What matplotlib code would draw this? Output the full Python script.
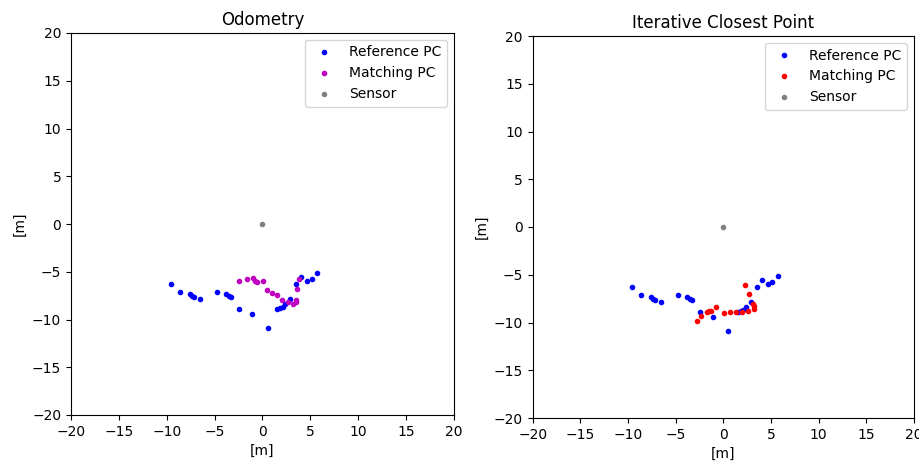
import matplotlib
matplotlib.use("Agg")
import matplotlib.pyplot as plt

# Reference point cloud (same in both panels)
ref_x = [-9.59, -8.65, -7.57, -7.33, -7.15, -6.53, -4.75, -3.81, -3.53, -3.29,
         -2.42, -1.13, 0.54, 1.55, 1.83, 2.1, 2.35, 2.87, 3.5, 4.05, 4.65, 5.14, 5.73]
ref_y = [-6.28, -7.12, -7.33, -7.5, -7.68, -7.89, -7.12, -7.33, -7.5, -7.68,
         -8.93, -9.46, -10.86, -8.93, -8.83, -8.66, -8.41, -7.85, -6.28, -5.51, -5.93, -5.76, -5.1]

# Matching point cloud after odometry
odo_x = [-2.42, -1.65, -0.96, -0.78, -0.6, 0.02, 0.44, 1.0, 1.51, 2.07,
         2.66, 3.22, 3.46, 3.53, 3.6, 3.85]
odo_y = [-5.97, -5.76, -5.69, -5.93, -6.07, -5.97, -6.91, -7.23, -7.4, -7.96,
         -8.2, -8.41, -8.13, -7.92, -6.84, -5.76]

# Matching point cloud after ICP
icp_x = [-2.8, -2.32, -1.75, -1.48, -1.3, -0.81, 0.1, 0.66, 1.29, 1.95,
         2.55, 3.18, 3.21, 3.1, 2.69, 2.23]
icp_y = [-9.81, -9.29, -8.9, -8.8, -8.75, -8.41, -8.97, -8.87, -8.87, -8.87,
         -8.76, -8.62, -8.27, -8.1, -7.05, -6.1]

sensor_x = [0.0]
sensor_y = [0.0]

titles = ["Odometry", "Iterative Closest Point"]
ticks = [-20, -15, -10, -5, 0, 5, 10, 15, 20]

W, H = 920, 462
fig = plt.figure(figsize=(W / 100, H / 100), dpi=100)
ax1 = fig.add_axes([71 / W, (H - 415) / H, 383 / W, 382 / H])
ax2 = fig.add_axes([532.7 / W, (H - 418) / H, 381.3 / W, 382 / H])

panels = [(ax1, odo_x, odo_y, 'm'), (ax2, icp_x, icp_y, 'r')]
for (ax, mx, my, mc), title in zip(panels, titles):
    ax.plot(ref_x, ref_y, '.', color='b', label='Reference PC')
    ax.plot(mx, my, '.', color=mc, label='Matching PC')
    ax.plot(sensor_x, sensor_y, '.', color='gray', label='Sensor')
    ax.set_xlim(-20, 20)
    ax.set_ylim(-20, 20)
    ax.set_xticks(ticks)
    ax.set_yticks(ticks)
    ax.set_xlabel('[m]')
    ax.set_ylabel('[m]')
    ax.set_title(title)
    ax.legend(loc='upper right')

fig.savefig('out.png', dpi=100)
